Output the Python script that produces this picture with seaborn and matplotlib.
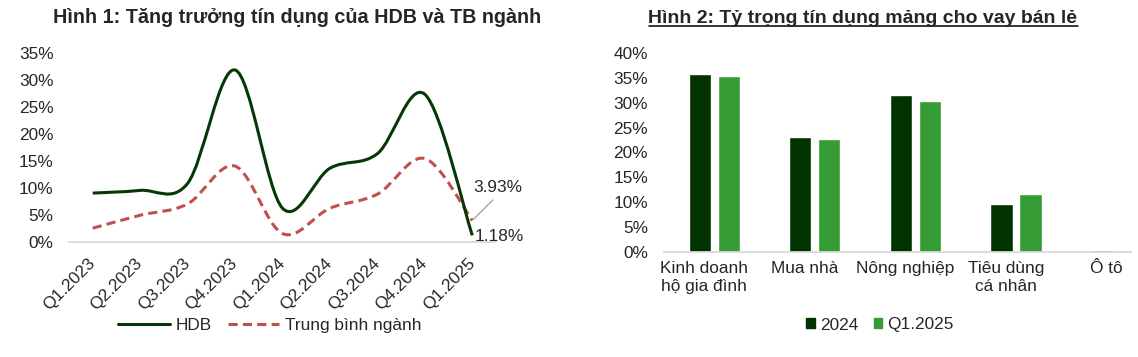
import matplotlib
matplotlib.use("Agg")
import matplotlib.pyplot as plt
import matplotlib.transforms as mtransforms
import numpy as np
import pandas as pd
import seaborn as sns
from matplotlib.lines import Line2D
from matplotlib.patches import Patch, PathPatch
from matplotlib.path import Path
from matplotlib.ticker import PercentFormatter

# Hinh 1 data (credit growth, %)
quarters = ["Q1.2023", "Q2.2023", "Q3.2023", "Q4.2023", "Q1.2024",
            "Q2.2024", "Q3.2024", "Q4.2024", "Q1.2025"]
hdb = [9.0, 9.5, 10.8, 31.8, 6.2, 13.6, 16.3, 27.3, 1.18]
industry = [2.5, 4.9, 7.0, 14.0, 1.5, 6.2, 8.8, 15.4, 3.93]

# Hinh 2 data (retail loan share, %)
segments = ["Kinh doanh\nhộ gia đình", "Mua nhà", "Nông nghiệp", "Tiêu dùng\ncá nhân", "Ô tô"]
share_2024 = [35.8, 23.1, 31.6, 9.6, 0.3]
share_q1_2025 = [35.4, 22.7, 30.4, 11.6, 0.3]

DARK = "#063806"
BAR_DARK = "#003300"
BAR_LIGHT = "#359B35"
RED = "#C0504D"
AXIS_GREY = "#D9D9D9"
FS = 12.4

sns.set_theme(style="white")
plt.rcParams["font.family"] = ["Liberation Sans", "DejaVu Sans"]


def smooth_path(y):
    # Excel-style smoothed line: cubic Bezier through every data point
    pts = np.column_stack([np.arange(len(y)), y]).astype(float)
    padded = np.vstack([pts[0], pts, pts[-1]])
    verts = [pts[0]]
    codes = [Path.MOVETO]
    for i in range(len(pts) - 1):
        p0, p1, p2, p3 = padded[i], padded[i + 1], padded[i + 2], padded[i + 3]
        verts += [p1 + (p2 - p0) / 6, p2 - (p3 - p1) / 6, p2]
        codes += [Path.CURVE4] * 3
    return Path(verts, codes)


fig = plt.figure(figsize=(11.38, 3.57), dpi=100)

# ---------------- Hinh 1 ----------------
ax1 = fig.add_axes([69 / 1138, 115.3 / 357, 427 / 1138, 189 / 357])
ax1.add_patch(PathPatch(smooth_path(industry), fill=False, edgecolor=RED, lw=2.2,
                        linestyle=(0, (3, 1.7)), capstyle="butt"))
ax1.add_patch(PathPatch(smooth_path(hdb), fill=False, edgecolor=DARK, lw=2.2))
ax1.set_xlim(-0.5, len(quarters) - 0.5)
ax1.set_ylim(0, 35)
ax1.set_xticks(range(len(quarters)))
ax1.set_xticklabels(quarters, rotation=45, ha="right", va="center", rotation_mode="anchor")
ax1.set_yticks(np.arange(0, 36, 5))
ax1.yaxis.set_major_formatter(PercentFormatter(decimals=0))
ax1.tick_params(axis="y", length=0, pad=11, labelsize=FS)
ax1.tick_params(axis="x", length=0, pad=14, labelsize=FS)
for s in ["top", "right", "left"]:
    ax1.spines[s].set_visible(False)
ax1.spines["bottom"].set_color(AXIS_GREY)
ax1.spines["bottom"].set_linewidth(1.3)

ax1.annotate(f"{industry[-1]:.2f}%", xy=(8, industry[-1]), xytext=(1, 24),
             textcoords="offset points", ha="left", va="center", fontsize=FS,
             annotation_clip=False,
             arrowprops=dict(arrowstyle="-", color="#A6A6A6", lw=1, relpos=(0.5, 0),
                             shrinkA=2, shrinkB=1))
ax1.annotate(f"{hdb[-1]:.2f}%", xy=(8, hdb[-1]), xytext=(2, -1),
             textcoords="offset points", ha="left", va="center", fontsize=FS,
             annotation_clip=False)

fig.legend(handles=[Line2D([], [], color=DARK, lw=2.2),
                    Line2D([], [], color=RED, lw=2.2, linestyle=(0, (3, 1.7)))],
           labels=["HDB", "Trung bình ngành"], loc="center", bbox_to_anchor=(270 / 1138, 32 / 357),
           ncol=2, frameon=False, fontsize=FS, handlelength=3.0, handletextpad=0.35,
           columnspacing=0.9)

fig.text(297 / 1138, 1 - 23 / 357, "Hình 1: Tăng trưởng tín dụng của HDB và TB ngành",
         ha="center", va="baseline", fontsize=14.2, fontweight="bold")

# ---------------- Hinh 2 ----------------
df_bar = pd.DataFrame({
    "segment": segments * 2,
    "share": share_2024 + share_q1_2025,
    "period": ["2024"] * len(segments) + ["Q1.2025"] * len(segments),
})
ax2 = fig.add_axes([664 / 1138, 105.3 / 357, 467 / 1138, 198.4 / 357])
sns.barplot(data=df_bar, x="segment", y="share", hue="period", palette=[BAR_DARK, BAR_LIGHT],
            width=0.577, gap=0.23, saturation=1, legend=False, ax=ax2)
ax2.set_xlim(-0.5, 4.145)
ax2.set_ylim(0, 40)
ax2.set_yticks(np.arange(0, 41, 5))
ax2.yaxis.set_major_formatter(PercentFormatter(decimals=0))
ax2.set_xlabel("")
ax2.set_ylabel("")
ax2.tick_params(axis="y", length=0, pad=11.5, labelsize=FS)
ax2.tick_params(axis="x", length=0, pad=7, labelsize=FS)
for s in ["top", "right", "left"]:
    ax2.spines[s].set_visible(False)
ax2.spines["bottom"].set_color(AXIS_GREY)
ax2.spines["bottom"].set_linewidth(1.3)
shift = mtransforms.ScaledTranslation(-10 / 100, 0, fig.dpi_scale_trans)
for lbl in ax2.get_xticklabels():
    lbl.set_transform(lbl.get_transform() + shift)

fig.legend(handles=[Patch(color=BAR_DARK), Patch(color=BAR_LIGHT)], labels=["2024", "Q1.2025"],
           loc="center", bbox_to_anchor=(880 / 1138, 32 / 357), ncol=2, frameon=False,
           fontsize=FS, handlelength=0.5, handleheight=0.5, handletextpad=0.3,
           columnspacing=0.9)

title2 = fig.text(863 / 1138, 1 - 23 / 357, "Hình 2: Tỷ trọng tín dụng mảng cho vay bán lẻ",
                  ha="center", va="baseline", fontsize=14.0, fontweight="bold")
fig.canvas.draw()
bb = title2.get_window_extent()
fig.add_artist(Line2D([bb.x0, bb.x1], [357 - 25.5, 357 - 25.5], color="black", lw=1.1,
                      transform=None))

fig.savefig("out.png", dpi=100)
